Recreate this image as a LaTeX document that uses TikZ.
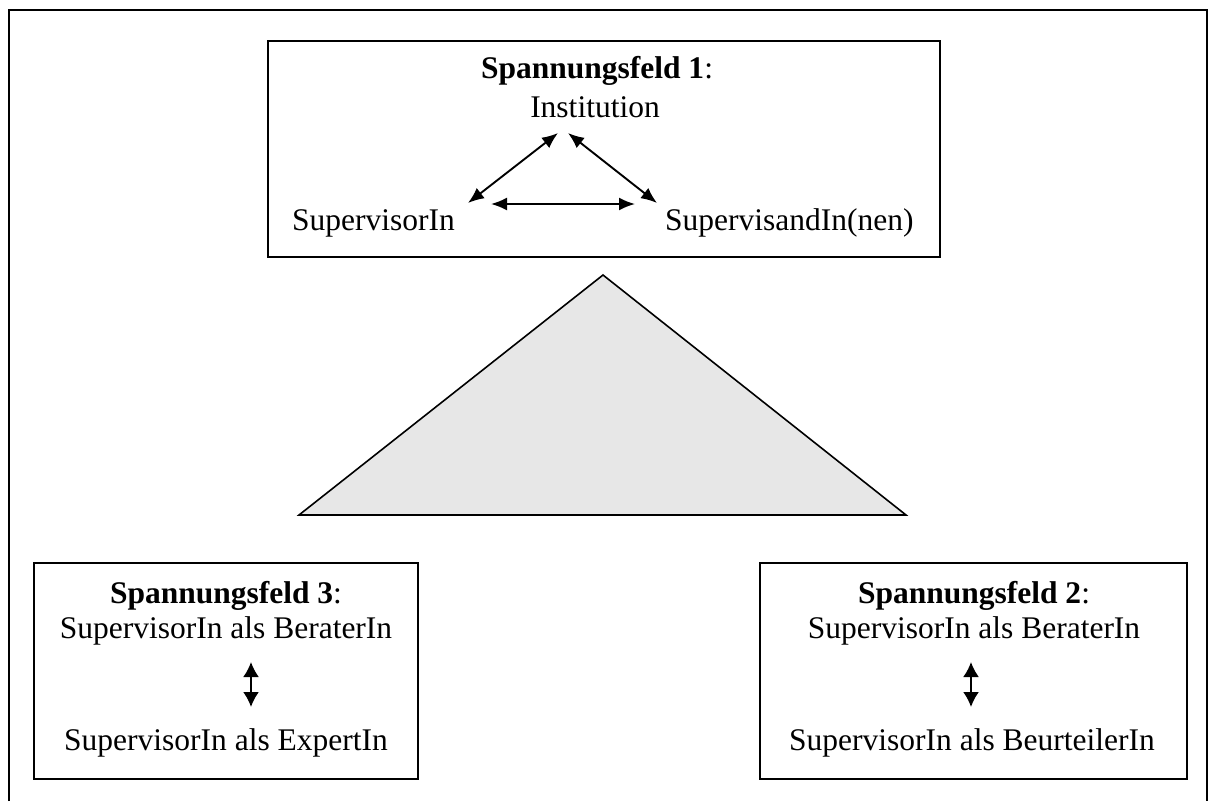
\documentclass[tikz,border=0pt]{standalone}
\usepackage{fontspec}
\setmainfont{Liberation Serif}
\usepackage{tikz}
\usetikzlibrary{arrows.meta}
\definecolor{pyramid}{HTML}{E7E7E7}

\begin{document}
\begin{tikzpicture}[x=1pt,y=-1pt,
    every node/.style={inner sep=0pt,font=\fontsize{31.5}{37.8}\selectfont},
    field/.style={draw,line width=2pt,minimum width=#1,minimum height=216pt},
    >={Latex[length=16pt,width=13pt]},
    updown/.style={line width=2pt,{Latex[length=15pt,width=16pt]}-{Latex[length=15pt,width=16pt]}}]
    \useasboundingbox (0,0) rectangle (1212,801);
    % outer frame (open at the bottom)
    \draw[line width=2pt] (9,801) -- (9,10) -- (1207,10) -- (1207,801);

    % Spannungsfeld 1
    \node[field=672pt] (sf1) at (604,149) {};
    \node[anchor=base] (t1) at (597,78) {\textbf{Spannungsfeld 1}:};
    \node[anchor=base] (inst) at (595,117) {Institution};
    \node[anchor=base west] (sor) at (292,230) {SupervisorIn};
    \node[anchor=base west] (sand) at (665,230) {SupervisandIn(nen)};
    \coordinate (sorup) at (468,203);
    \coordinate (instl) at (558,133);
    \coordinate (instr) at (568,133);
    \coordinate (sandup) at (657,203);
    \coordinate (sorr) at (491,204);
    \coordinate (sandl) at (635,204);
    \path[line width=1.9pt] (sorup) edge[<->] (instl)
          (instr) edge[<->] (sandup)
          (sorr) edge[<->] (sandl);

    % triangle
    \draw[line width=1.6pt,fill=pyramid] (299,515) -- (603,275) -- (906,515) -- cycle;

    % Spannungsfeld 3
    \node[field=384pt] (sf3) at (226,671) {};
    \node[anchor=base] (t3) at (226,603) {\textbf{Spannungsfeld 3}:};
    \node[anchor=base] (ber3) at (226,638) {SupervisorIn als BeraterIn};
    \node[anchor=base] (exp3) at (226,750) {SupervisorIn als ExpertIn};
    \coordinate (up3) at (251,662);
    \coordinate (down3) at (251,707);
    \draw[updown] (up3) -- (down3);

    % Spannungsfeld 2
    \node[field=427pt] (sf2) at (973.5,671) {};
    \node[anchor=base] (t2) at (974,603) {\textbf{Spannungsfeld 2}:};
    \node[anchor=base] (ber2) at (974,638) {SupervisorIn als BeraterIn};
    \node[anchor=base] (beu2) at (972,750) {SupervisorIn als BeurteilerIn};
    \coordinate (up2) at (971,662);
    \coordinate (down2) at (971,707);
    \draw[updown] (up2) -- (down2);
\end{tikzpicture}
\end{document}
